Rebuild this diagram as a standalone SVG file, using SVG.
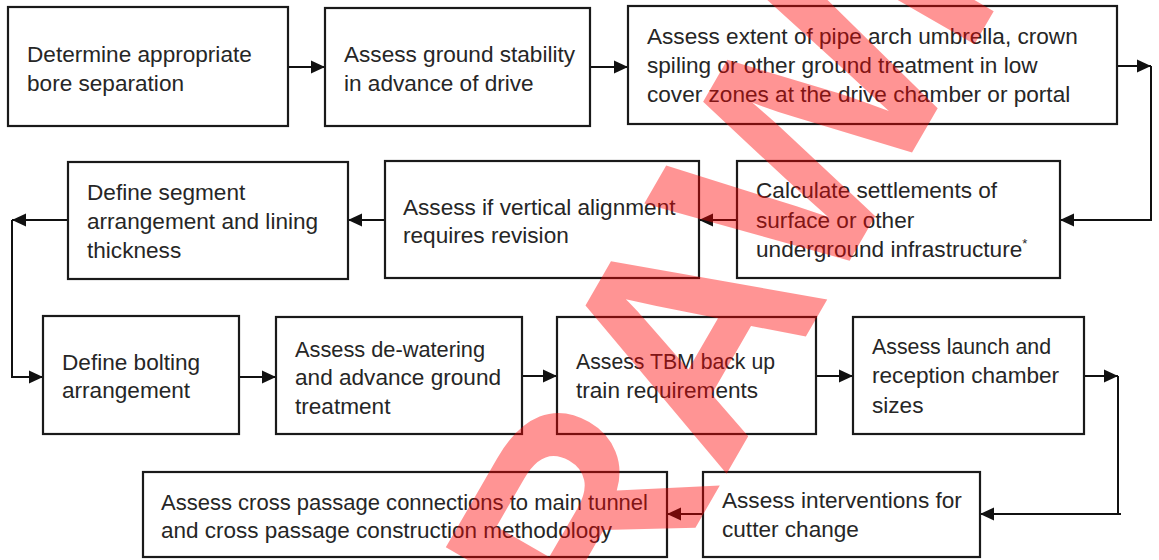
<svg xmlns="http://www.w3.org/2000/svg" width="1159" height="560" viewBox="0 0 1159 560">
  <defs>
    <style>
      .box { fill: #ffffff; stroke: #1a1a1a; stroke-width: 2.2; }
      .lbl { font-family: "Liberation Sans", Arial, sans-serif; font-size: 22.6px; fill: #262626; }
      .sup { font-size: 13px; }
      .wire { fill: none; stroke: #111111; stroke-width: 2; }
      .stamp { font-family: "Liberation Sans", Arial, sans-serif; font-weight: bold; font-size: 300px; fill: #ff0000; fill-opacity: 0.42; }
    </style>
    <marker id="head" viewBox="0 0 14 14" refX="14" refY="7" markerWidth="14" markerHeight="14" markerUnits="userSpaceOnUse" orient="auto">
      <path d="M0,0.5 L14,7 L0,13.5 Z" fill="#111111"/>
    </marker>
  </defs>

  <rect x="0" y="0" width="1159" height="560" fill="#ffffff"/>

  <!-- connectors -->
  <g id="connectors">
    <path class="wire" d="M288,67 H325" marker-end="url(#head)"/>
    <path class="wire" d="M590,67 H628" marker-end="url(#head)"/>
    <path class="wire" d="M1117,66 H1151" marker-end="url(#head)"/>
    <path class="wire" d="M1151,66 V220 H1060" marker-end="url(#head)"/>
    <path class="wire" d="M737,220 H699" marker-end="url(#head)"/>
    <path class="wire" d="M385,220 H348" marker-end="url(#head)"/>
    <path class="wire" d="M68,220 H12" marker-end="url(#head)"/>
    <path class="wire" d="M12,220 V377 H43" marker-end="url(#head)"/>
    <path class="wire" d="M239,377 H276" marker-end="url(#head)"/>
    <path class="wire" d="M522,376 H557" marker-end="url(#head)"/>
    <path class="wire" d="M816,376 H853" marker-end="url(#head)"/>
    <path class="wire" d="M1084,376 H1118" marker-end="url(#head)"/>
    <path class="wire" d="M1118,376 V514 M1121,514 H980" marker-end="url(#head)"/>
    <path class="wire" d="M703,514 H667" marker-end="url(#head)"/>
  </g>

  <g id="n1">
    <rect class="box" x="8" y="7" width="280" height="119"/>
    <text class="lbl" x="27" y="62">Determine appropriate</text>
    <text class="lbl" x="27" y="91">bore separation</text>
  </g>

  <g id="n2">
    <rect class="box" x="325" y="8" width="265" height="118"/>
    <text class="lbl" x="344" y="62">Assess ground stability</text>
    <text class="lbl" x="344" y="91">in advance of drive</text>
  </g>

  <g id="n3">
    <rect class="box" x="628" y="6" width="489" height="118"/>
    <text class="lbl" x="647" y="44">Assess extent of pipe arch umbrella, crown</text>
    <text class="lbl" x="647" y="73">spiling or other ground treatment in low</text>
    <text class="lbl" x="647" y="102">cover zones at the drive chamber or portal</text>
  </g>

  <g id="n4">
    <rect class="box" x="737" y="161" width="323" height="117"/>
    <text class="lbl" x="756" y="198">Calculate settlements of</text>
    <text class="lbl" x="756" y="228">surface or other</text>
    <text class="lbl" x="756" y="257">underground infrastructure<tspan class="sup" dy="-9">*</tspan></text>
  </g>

  <g id="n5">
    <rect class="box" x="385" y="161" width="314" height="117"/>
    <text class="lbl" x="403" y="215">Assess if vertical alignment</text>
    <text class="lbl" x="403" y="243">requires revision</text>
  </g>

  <g id="n6">
    <rect class="box" x="68" y="162" width="280" height="117"/>
    <text class="lbl" x="87" y="200">Define segment</text>
    <text class="lbl" x="87" y="229">arrangement and lining</text>
    <text class="lbl" x="87" y="258">thickness</text>
  </g>

  <g id="n7">
    <rect class="box" x="43" y="316" width="196" height="118"/>
    <text class="lbl" x="62" y="370">Define bolting</text>
    <text class="lbl" x="62" y="398">arrangement</text>
  </g>

  <g id="n8">
    <rect class="box" x="276" y="317" width="246" height="117"/>
    <text class="lbl" x="295" y="357" textLength="190" lengthAdjust="spacingAndGlyphs">Assess de-watering</text>
    <text class="lbl" x="295" y="385">and advance ground</text>
    <text class="lbl" x="295" y="414">treatment</text>
  </g>

  <g id="n9">
    <rect class="box" x="557" y="317" width="259" height="117"/>
    <text class="lbl" x="576" y="369" textLength="199" lengthAdjust="spacingAndGlyphs">Assess TBM back up</text>
    <text class="lbl" x="576" y="398">train requirements</text>
  </g>

  <g id="n10">
    <rect class="box" x="853" y="317" width="231" height="117"/>
    <text class="lbl" x="872" y="354" textLength="179" lengthAdjust="spacingAndGlyphs">Assess launch and</text>
    <text class="lbl" x="872" y="383">reception chamber</text>
    <text class="lbl" x="872" y="413">sizes</text>
  </g>

  <g id="n11">
    <rect class="box" x="703" y="472" width="277" height="85"/>
    <text class="lbl" x="722" y="508">Assess interventions for</text>
    <text class="lbl" x="722" y="537">cutter change</text>
  </g>

  <g id="n12">
    <rect class="box" x="143" y="472" width="524" height="85"/>
    <text class="lbl" x="161" y="510" textLength="487" lengthAdjust="spacingAndGlyphs">Assess cross passage connections to main tunnel</text>
    <text class="lbl" x="161" y="538" textLength="451" lengthAdjust="spacingAndGlyphs">and cross passage construction methodology</text>
  </g>

  <!-- diagonal status stamp laid over the flow -->
  <g id="stamp">
    <text class="stamp" transform="translate(723,480) rotate(-60)" x="-1200" y="0">WITHDRAWN</text>
  </g>
</svg>
